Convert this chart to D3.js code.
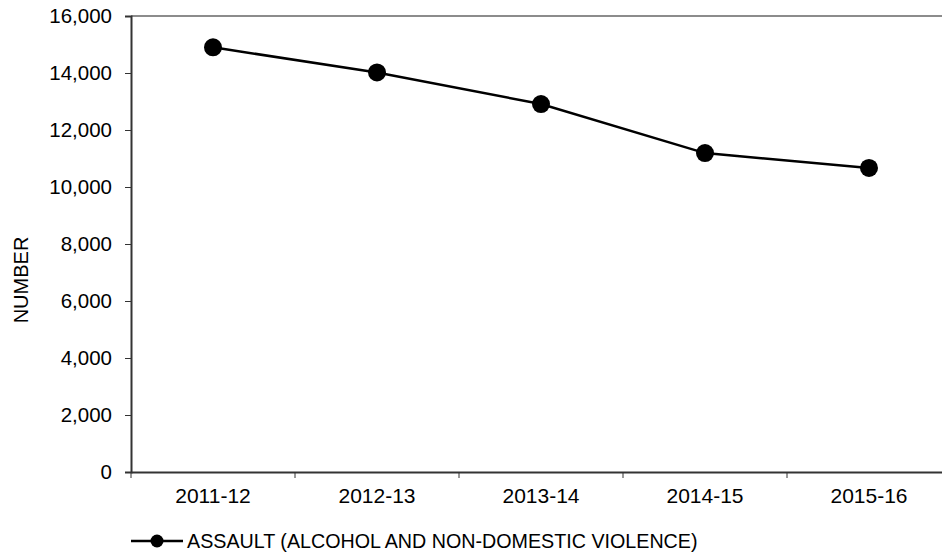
<!DOCTYPE html>
<html>
<head>
<meta charset="utf-8">
<script src="https://cdn.jsdelivr.net/npm/d3@7"></script>
<style>
  body { margin: 0; background: #fff; }
  svg { display: block; font-family: "Liberation Sans", Arial, sans-serif; }
</style>
</head>
<body>
<div id="chart"></div>
<script>
const years = ["2011-12", "2012-13", "2013-14", "2014-15", "2015-16"];
const assault = [14900, 14020, 12910, 11190, 10670];
const yTicks = [0, 2000, 4000, 6000, 8000, 10000, 12000, 14000, 16000];
const seriesName = "ASSAULT (ALCOHOL AND NON-DOMESTIC VIOLENCE)";

const width = 942, height = 556;
const plotLeft = 131, plotTop = 16, plotBottom = 472, plotRight = 951;

const svg = d3.select("#chart")
    .append("svg")
    .attr("width", width)
    .attr("height", height);

const xScale = d3.scaleBand()
    .domain(years)
    .range([plotLeft, plotRight]);

const yScale = d3.scaleLinear()
    .domain([0, 16000])
    .range([plotBottom, plotTop]);

// top border of plot area
svg.append("line")
    .attr("x1", plotLeft).attr("x2", plotRight)
    .attr("y1", yScale(16000)).attr("y2", yScale(16000))
    .attr("stroke", "#8c8c8c")
    .attr("stroke-width", 2);

// y axis
const yAxis = svg.append("g")
    .attr("transform", `translate(${plotLeft},0)`)
    .call(d3.axisLeft(yScale).tickValues(yTicks).tickSize(6).tickPadding(13)
        .tickFormat(d3.format(",")));
yAxis.select(".domain").attr("stroke", "#333").attr("stroke-width", 2);
yAxis.selectAll(".tick line").attr("stroke", "#333");
yAxis.selectAll("text").attr("font-size", "20.5px").attr("fill", "#000")
    .attr("font-family", "Liberation Sans, Arial, sans-serif");

// x axis
const xAxis = svg.append("g")
    .attr("transform", `translate(0,${plotBottom})`)
    .call(d3.axisBottom(xScale).tickSize(0).tickPadding(16));
xAxis.select(".domain").attr("stroke", "#333").attr("stroke-width", 2);
xAxis.selectAll("text").attr("font-size", "21px").attr("fill", "#000")
    .attr("font-family", "Liberation Sans, Arial, sans-serif");

// category separators on x axis
svg.append("g")
    .selectAll("line")
    .data(years)
    .join("line")
        .attr("x1", d => xScale(d)).attr("x2", d => xScale(d))
        .attr("y1", plotBottom).attr("y2", plotBottom + 6)
        .attr("stroke", "#333");

// series line
const line = d3.line()
    .x((d, i) => xScale(years[i]) + xScale.bandwidth() / 2)
    .y(d => yScale(d));

svg.append("path")
    .datum(assault)
    .attr("d", line)
    .attr("fill", "none")
    .attr("stroke", "#000")
    .attr("stroke-width", 2.5);

svg.append("g")
    .selectAll("circle")
    .data(assault)
    .join("circle")
        .attr("cx", (d, i) => xScale(years[i]) + xScale.bandwidth() / 2)
        .attr("cy", d => yScale(d))
        .attr("r", 9)
        .attr("fill", "#000");

// y axis title
svg.append("text")
    .text("NUMBER")
    .attr("transform", `translate(28,280) rotate(-90)`)
    .attr("text-anchor", "middle")
    .attr("font-size", "20px")
    .attr("fill", "#000");

// legend
const lg = svg.append("g").attr("transform", "translate(0,541)");
lg.append("line")
    .attr("x1", 131).attr("x2", 183)
    .attr("y1", 0).attr("y2", 0)
    .attr("stroke", "#000").attr("stroke-width", 2.5);
lg.append("circle")
    .attr("cx", 157).attr("cy", 0).attr("r", 6.5)
    .attr("fill", "#000");
lg.append("text")
    .text(seriesName)
    .attr("x", 187).attr("y", 7)
    .attr("font-size", "19.7px")
    .attr("fill", "#000");
</script>
</body>
</html>
